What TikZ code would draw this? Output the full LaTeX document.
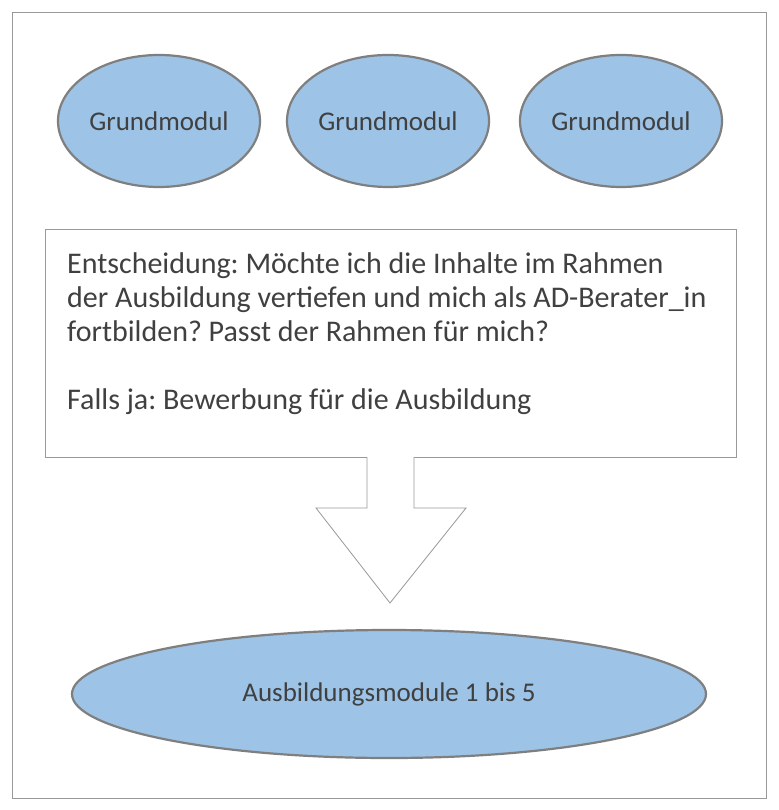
\documentclass[tikz,border=0pt]{standalone}
\usepackage{fontspec}
\setmainfont{Carlito}
\frenchspacing
\usetikzlibrary{shapes.geometric}
\definecolor{fillb}{HTML}{9DC3E6}
\definecolor{edge}{HTML}{7F7F7F}
\definecolor{txt}{HTML}{404040}
\begin{document}
\begin{tikzpicture}[x=1pt,y=-1pt,
  modul/.style={ellipse,draw=edge,line width=2.2pt,fill=fillb,text=txt,font=\fontsize{27}{32}\selectfont,inner sep=0pt},
  thin/.style={draw=edge!80,line width=0.8pt}]
\fill[white] (0,0) rectangle (778,810);
\draw[thin] (12,12) rectangle (766,798);
\node[modul,minimum width=202,minimum height=132] (g1) at (159,121) {Grundmodul};
\node[modul,minimum width=202,minimum height=132] (g2) at (388,121) {Grundmodul};
\node[modul,minimum width=202,minimum height=132] (g3) at (621,121) {Grundmodul};
\node[thin,fill=white,minimum width=691,minimum height=228,anchor=north west,inner sep=0pt] (box) at (45,229) {};
\node[anchor=north west,text=txt,font=\fontsize{30}{34}\selectfont,align=left,inner sep=0pt] (t) at (67,252) {Entscheidung: Möchte ich die Inhalte im Rahmen\\der Ausbildung vertiefen und mich als AD-Berater\_in\\fortbilden? Passt der Rahmen für mich?\\[34pt]Falls ja: Bewerbung für die Ausbildung};
\coordinate (tip) at (390,603);
\draw[thin,fill=white,line join=miter] (367,457) -- (367,508) -- (316,508) -- (tip) -- (466,508) -- (414,508) -- (414,457);
\node[modul,minimum width=634,minimum height=128] (a) at (389,694) {Ausbildungsmodule 1 bis 5};
\end{tikzpicture}
\end{document}
